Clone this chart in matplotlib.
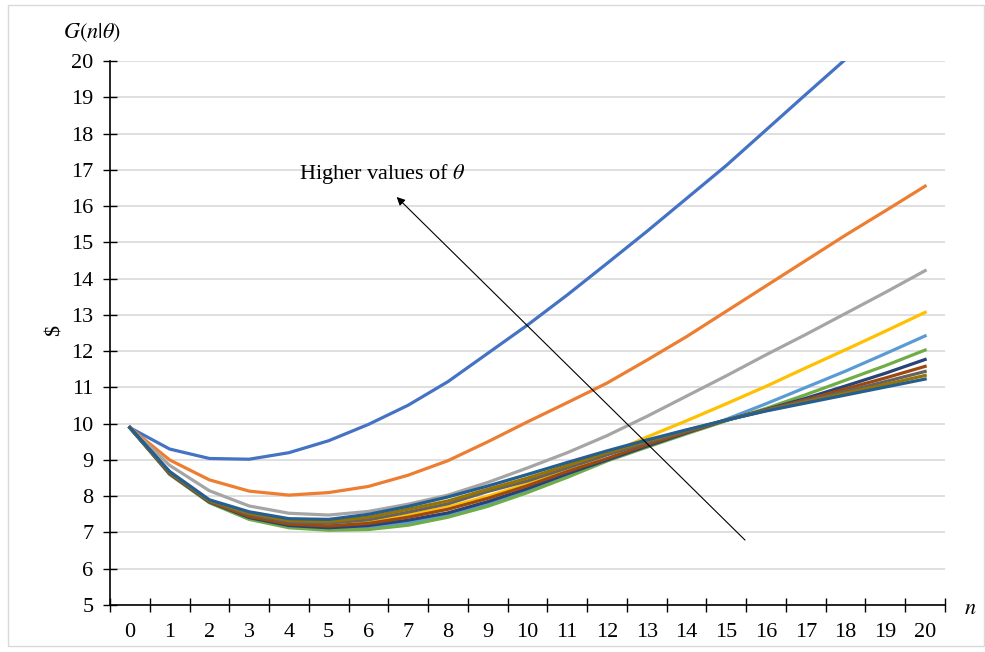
import numpy as np
import matplotlib
matplotlib.use("Agg")
from matplotlib import pyplot as plt
from matplotlib.patches import Rectangle

plt.rcParams['font.family'] = ['Liberation Serif', 'DejaVu Serif']
plt.rcParams['mathtext.fontset'] = 'stix'

n_values = list(range(21))

# G(n|theta) for each theta, lowest theta first
g_theta_1 = [9.89, 9.30, 9.04, 9.02, 9.20, 9.53, 9.98, 10.51, 11.16, 11.94, 12.72,
             13.55, 14.42, 15.30, 16.21, 17.12, 18.10, 19.08, 20.05, 21.05, 22.05]
g_theta_2 = [9.89, 9.00, 8.45, 8.14, 8.03, 8.10, 8.27, 8.58, 8.98, 9.50, 10.05,
             10.58, 11.12, 11.75, 12.40, 13.10, 13.80, 14.50, 15.20, 15.87, 16.55]
g_theta_3 = [9.89, 8.85, 8.15, 7.73, 7.53, 7.48, 7.58, 7.78, 8.03, 8.38, 8.78,
             9.20, 9.67, 10.20, 10.76, 11.32, 11.90, 12.46, 13.04, 13.62, 14.22]
g_theta_4 = [9.89, 8.64, 7.86, 7.47, 7.26, 7.21, 7.29, 7.48, 7.70, 8.00, 8.34,
             8.73, 9.15, 9.63, 10.08, 10.55, 11.03, 11.54, 12.04, 12.55, 13.07]
g_theta_5 = [9.89, 8.61, 7.83, 7.38, 7.16, 7.10, 7.13, 7.27, 7.48, 7.79, 8.15,
             8.57, 8.99, 9.38, 9.75, 10.12, 10.55, 11.00, 11.45, 11.93, 12.42]
g_theta_6 = [9.89, 8.60, 7.82, 7.36, 7.13, 7.06, 7.08, 7.20, 7.42, 7.72, 8.10,
             8.52, 8.97, 9.35, 9.72, 10.08, 10.42, 10.80, 11.20, 11.60, 12.03]
g_theta_7 = [9.89, 8.62, 7.84, 7.41, 7.19, 7.13, 7.19, 7.34, 7.54, 7.85, 8.21,
             8.62, 9.00, 9.38, 9.75, 10.10, 10.39, 10.70, 11.04, 11.39, 11.77]
g_theta_8 = [9.89, 8.63, 7.85, 7.44, 7.23, 7.18, 7.25, 7.42, 7.64, 7.94, 8.29,
             8.68, 9.04, 9.42, 9.77, 10.10, 10.38, 10.66, 10.96, 11.26, 11.58]
g_theta_9 = [9.89, 8.65, 7.87, 7.50, 7.29, 7.26, 7.35, 7.56, 7.79, 8.13, 8.42,
             8.78, 9.14, 9.48, 9.80, 10.10, 10.37, 10.63, 10.89, 11.16, 11.44]
g_theta_10 = [9.89, 8.66, 7.88, 7.53, 7.33, 7.30, 7.42, 7.64, 7.87, 8.19, 8.50,
              8.85, 9.20, 9.52, 9.82, 10.10, 10.36, 10.60, 10.84, 11.08, 11.33]
g_theta_11 = [9.89, 8.68, 7.90, 7.57, 7.38, 7.36, 7.50, 7.72, 7.98, 8.28, 8.60,
              8.93, 9.25, 9.55, 9.83, 10.10, 10.35, 10.57, 10.79, 11.01, 11.23]

series = [g_theta_1, g_theta_2, g_theta_3, g_theta_4, g_theta_5, g_theta_6,
          g_theta_7, g_theta_8, g_theta_9, g_theta_10, g_theta_11]
colors = ['#4472C4', '#ED7D31', '#A5A5A5', '#FFC000', '#5B9BD5', '#70AD47',
          '#264478', '#9E480E', '#636363', '#997300', '#255E91']

fig = plt.figure(figsize=(9.85, 6.52), dpi=100)
ax = fig.add_axes([0.1117, 0.0721, 0.8477, 0.8343])

for vals, col in zip(series, colors):
    ax.plot(n_values, vals, color=col, linewidth=2.3, solid_joinstyle='round')

ax.set_xlim(-0.5, 20.5)
ax.set_ylim(5, 20)

# category axis: ticks between categories, labels on categories
ax.set_xticks(np.arange(-0.5, 21, 1))
ax.set_xticks(n_values, minor=True)
ax.set_xticklabels([])
ax.set_xticklabels([str(v) for v in n_values], minor=True)
ax.tick_params(axis='x', which='major', direction='inout', length=10, width=1)
ax.tick_params(axis='x', which='minor', length=0, pad=13, labelsize=16)

ax.set_yticks(range(5, 21))
ax.tick_params(axis='y', direction='inout', length=10, width=1, pad=7, labelsize=16)
ax.yaxis.grid(True, color='#D9D9D9', linewidth=1.2)
ax.set_axisbelow(True)

for side in ['top', 'right']:
    ax.spines[side].set_visible(False)
for side in ['left', 'bottom']:
    ax.spines[side].set_linewidth(1.2)

fig.text(92 / 985, 1 - 33 / 652, r'$G(n|\theta)$', fontsize=16, ha='center', va='center')
fig.text(55 / 985, 1 - 330 / 652, '$', fontsize=16, ha='center', va='center', rotation=90)
fig.text(970 / 985, 1 - 609 / 652, r'$n$', fontsize=16, ha='center', va='center')

ax.annotate('', xy=(6.71, 16.25), xytext=(15.47, 6.79),
            arrowprops=dict(arrowstyle='-|>', color='black', lw=0.8,
                            mutation_scale=12, shrinkA=0, shrinkB=0))
ax.text(4.25, 16.88, r'Higher values of $\theta$', fontsize=16, ha='left', va='center')

fig.patches.append(Rectangle((8 / 985, 1 - 646 / 652), 976 / 985, 641 / 652,
                             transform=fig.transFigure, fill=False,
                             edgecolor='#D9D9D9', linewidth=1))

plt.savefig('out.png', dpi=100)
